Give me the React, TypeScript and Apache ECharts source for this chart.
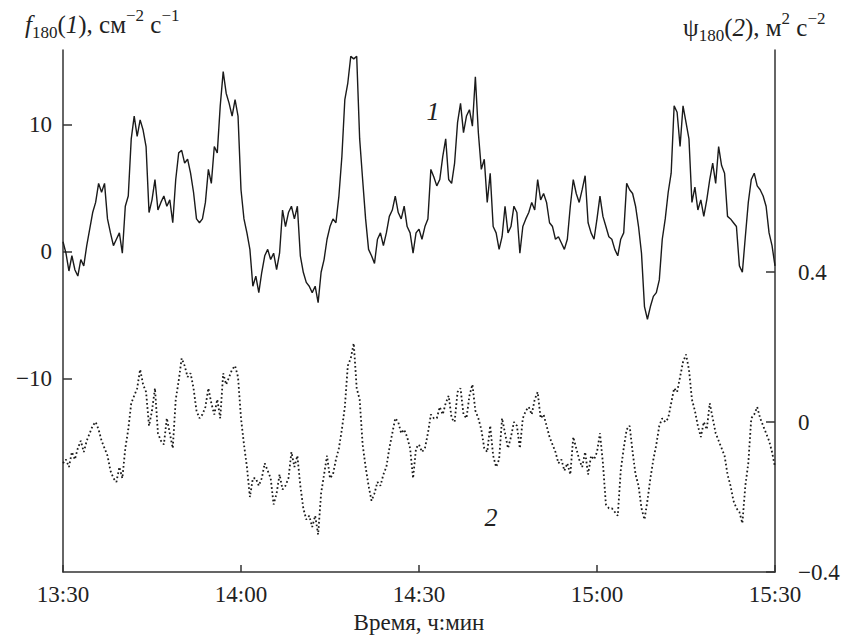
import React, { useEffect, useRef } from 'react';
import * as echarts from 'echarts';

// Time axis: minutes after 13:30
const timeTicks = [0, 30, 60, 90, 120];
const timeLabels = ['13:30', '14:00', '14:30', '15:00', '15:30'];
const leftTicks = [-10, 0, 10];
const leftTickLabels = ['−10', '0', '10'];
const rightTicks = [-0.4, 0, 0.4];
const rightTickLabels = ['−0.4', '0', '0.4'];
const sampleStepMin = 0.5;

// Curve 1: f180, cm^-2 s^-1 (left axis), every 0.5 min from 13:30
const flux180 = [
  0.8, -0.1, -1.5, -0.3, -1.4, -1.9, -0.6, -1.1, 0.5, 1.8,
  3.1, 3.9, 5.4, 4.7, 5.4, 2.6, 1.5, 0.5, 1.0, 1.5,
  -0.1, 3.6, 4.4, 8.9, 10.7, 9.1, 10.4, 9.6, 8.3, 3.1,
  4.1, 5.7, 3.3, 3.9, 4.4, 3.6, 4.1, 2.3, 5.7, 7.8,
  8.0, 7.0, 7.3, 6.2, 4.7, 2.6, 2.3, 2.6, 3.9, 6.5,
  5.4, 8.3, 7.8, 11.5, 14.2, 12.5, 11.7, 10.7, 12.0, 10.7,
  4.9, 2.6, 1.5, 0.2, -2.7, -1.9, -3.2, -1.6, -0.3, 0.2,
  -0.6, -0.1, -1.4, -0.1, 3.3, 2.0, 3.1, 3.6, 2.6, 3.6,
  -0.3, -1.6, -2.4, -2.7, -3.2, -2.7, -4.0, -1.6, -0.6, 1.0,
  2.0, 2.6, 2.3, 4.4, 7.5, 12.0, 13.3, 15.4, 15.2, 15.4,
  8.9, 5.7, 2.6, 0.2, -0.3, -0.9, 1.0, 1.5, 0.5, 1.5,
  2.8, 3.3, 4.4, 3.1, 2.6, 3.6, 2.0, 1.5, -0.1, 1.5,
  1.8, 1.0, 2.0, 2.6, 6.5, 5.9, 5.2, 5.7, 7.5, 8.9,
  5.7, 5.4, 7.0, 10.2, 11.7, 9.4, 10.7, 11.2, 9.9, 13.8,
  9.4, 6.5, 7.3, 3.9, 6.2, 2.0, 1.5, 0.2, 1.2, 3.6,
  1.5, 2.0, 3.6, 3.1, -0.1, 2.0, 2.6, 3.1, 3.9, 3.3,
  5.7, 4.1, 4.6, 3.9, 2.3, 2.0, 1.0, 1.2, 0.7, 0.2,
  1.0, 3.6, 5.7, 4.6, 3.9, 4.9, 6.0, 2.3, 1.5, 1.0,
  2.6, 4.4, 2.8, 2.0, 1.2, 1.0, 0.2, -0.3, 1.0, 1.5,
  5.4, 4.9, 4.6, 3.6, 2.0, -0.1, -4.3, -5.3, -4.3, -3.5,
  -3.2, -2.2, 1.0, 2.6, 4.7, 6.2, 11.5, 11.0, 8.3, 11.5,
  10.2, 8.9, 3.9, 5.1, 3.3, 4.1, 2.8, 4.1, 5.7, 7.0,
  5.4, 8.3, 6.8, 6.2, 2.8, 2.6, 2.3, 2.0, -1.1, -1.6,
  1.2, 3.9, 5.7, 6.2, 5.2, 4.9, 4.4, 3.6, 1.5, 0.5,
  -1.1,
];

// Curve 2: psi180, m^2 s^-2 (right axis), every 0.5 min from 13:30
const psi180 = [
  -0.11, -0.10, -0.12, -0.08, -0.10, -0.07, -0.05, -0.08, -0.05, -0.03,
  -0.01, 0.0, -0.02, -0.05, -0.07, -0.09, -0.13, -0.15, -0.16, -0.12,
  -0.15, -0.07, -0.02, 0.05, 0.07, 0.09, 0.14, 0.10, 0.08, -0.01,
  0.03, 0.09, -0.03, -0.05, -0.06, 0.01, -0.03, -0.07, 0.06, 0.11,
  0.17, 0.15, 0.12, 0.13, 0.09, 0.03, 0.01, 0.02, 0.04, 0.09,
  0.05, 0.02, 0.06, 0.01, 0.13, 0.10, 0.12, 0.14, 0.15, 0.12,
  0.01, -0.06, -0.12, -0.20, -0.15, -0.15, -0.17, -0.15, -0.11, -0.13,
  -0.15, -0.22, -0.19, -0.14, -0.18, -0.17, -0.15, -0.08, -0.12, -0.09,
  -0.17, -0.23, -0.26, -0.25, -0.28, -0.25, -0.30, -0.19, -0.14, -0.09,
  -0.15, -0.14, -0.10, -0.07, -0.02, 0.04, 0.15, 0.17, 0.21, 0.09,
  0.06, -0.06, -0.12, -0.17, -0.21, -0.19, -0.16, -0.17, -0.14, -0.12,
  -0.07, -0.03, 0.01, 0.0, -0.03, -0.02, -0.04, -0.07, -0.15, -0.07,
  -0.06, -0.08, -0.07, -0.03, 0.02, 0.01, 0.01, 0.04, 0.02, 0.05,
  0.07, 0.01, 0.0, 0.08, 0.09, 0.02, 0.01, 0.07, 0.10, 0.03,
  0.01, -0.02, -0.07, -0.08, -0.01, -0.09, -0.12, -0.10, 0.01, -0.03,
  -0.07, -0.04, 0.0, -0.01, -0.07, 0.01, 0.03, 0.04, 0.02, 0.06,
  0.08, 0.01, 0.02, -0.01, -0.04, -0.06, -0.08, -0.11, -0.10, -0.13,
  -0.11, -0.14, -0.04, -0.07, -0.10, -0.12, -0.08, -0.14, -0.09, -0.10,
  -0.08, -0.03, -0.11, -0.22, -0.23, -0.23, -0.24, -0.25, -0.13, -0.07,
  -0.02, -0.01, -0.08, -0.14, -0.17, -0.23, -0.26, -0.21, -0.15, -0.10,
  -0.06, -0.01, 0.01, 0.0, 0.01, 0.05, 0.09, 0.08, 0.12, 0.16,
  0.18, 0.14, 0.06, 0.03, -0.01, -0.04, 0.0, -0.02, 0.05, 0.01,
  -0.03, -0.05, -0.07, -0.09, -0.14, -0.17, -0.21, -0.23, -0.24, -0.27,
  -0.17, -0.11, 0.01, 0.02, 0.04, 0.01, -0.01, -0.03, -0.05, -0.08,
  -0.12,
];

const FONT = 'Liberation Serif';
const INK = '#222';
const SVG_FONT_CSS =
  '.chart-root svg text, .chart-root svg tspan { font-family: "Liberation Serif", serif !important; }';

function labelFor(v: number, ticks: number[], labels: string[]) {
  let best = 0;
  for (let i = 1; i < ticks.length; i++) {
    if (Math.abs(ticks[i] - v) < Math.abs(ticks[best] - v)) best = i;
  }
  return labels[best];
}

export default function App() {
  const ref = useRef<HTMLDivElement>(null);
  useEffect(() => {
    if (!ref.current) return;
    document.body.style.margin = '0';
    const chart = echarts.init(ref.current, null, { renderer: 'svg' });
    const s1 = flux180.map((v, i) => [i * sampleStepMin, v]);
    const s2 = psi180.map((v, i) => [i * sampleStepMin, v]);
    const axisLineStyle = { color: '#333', width: 1.5 };
    const labelBase = { color: INK, fontFamily: FONT, fontSize: 23 };
    const rich = {
      n: { fontFamily: FONT, fontSize: 25, lineHeight: 34, color: INK, verticalAlign: 'middle' },
      i: { fontFamily: FONT, fontSize: 25, lineHeight: 34, color: INK, fontStyle: 'italic', verticalAlign: 'middle' },
      sub: { fontFamily: FONT, fontSize: 17, lineHeight: 34, color: INK, verticalAlign: 'bottom' },
      sup: { fontFamily: FONT, fontSize: 17, lineHeight: 34, color: INK, verticalAlign: 'top' },
    };
    chart.setOption({
      animation: false,
      textStyle: { fontFamily: FONT },
      grid: { left: 63, right: 77, top: 50, bottom: 72, containLabel: false },
      xAxis: {
        type: 'value',
        min: 0,
        max: 120,
        interval: 30,
        name: 'Время, ч:мин',
        nameLocation: 'middle',
        nameGap: 37,
        nameTextStyle: { color: INK, fontFamily: FONT, fontSize: 23 },
        axisLine: { show: true, onZero: false, lineStyle: axisLineStyle },
        axisTick: { show: true, inside: true, length: 7, lineStyle: axisLineStyle },
        axisLabel: {
          ...labelBase,
          margin: 11,
          customValues: timeTicks,
          formatter: (v: number) => labelFor(v, timeTicks, timeLabels),
        },
        splitLine: { show: false },
      },
      yAxis: [
        {
          type: 'value',
          position: 'left',
          min: -25.2,
          max: 15.9,
          axisLine: { show: true, onZero: false, lineStyle: axisLineStyle },
          axisTick: { show: true, inside: true, length: 9, lineStyle: axisLineStyle, customValues: leftTicks },
          axisLabel: {
            ...labelBase,
            margin: 11,
            customValues: leftTicks,
            formatter: (v: number) => labelFor(v, leftTicks, leftTickLabels),
          },
          splitLine: { show: false },
        },
        {
          type: 'value',
          position: 'right',
          min: -0.4,
          max: 0.992,
          axisLine: { show: true, onZero: false, lineStyle: axisLineStyle },
          axisTick: { show: true, inside: true, length: 9, lineStyle: axisLineStyle, customValues: rightTicks },
          axisLabel: {
            ...labelBase,
            margin: 23,
            customValues: rightTicks,
            formatter: (v: number) => labelFor(v, rightTicks, rightTickLabels),
          },
          splitLine: { show: false },
        },
      ],
      series: [
        {
          type: 'line',
          yAxisIndex: 0,
          data: s1,
          showSymbol: false,
          symbol: 'none',
          lineStyle: { color: '#1a1a1a', width: 1.4 },
          z: 3,
        },
        {
          type: 'line',
          yAxisIndex: 1,
          data: s2,
          showSymbol: false,
          symbol: 'none',
          lineStyle: { color: '#1a1a1a', width: 1.8, type: [1.7, 2.5] },
          z: 2,
        },
      ],
      graphic: [
        {
          type: 'text',
          left: 25,
          top: 7,
          style: {
            text: '{i|f}{sub|180}{n|(}{i|1}{n|), см}{sup|−2}{n| с}{sup|−1}',
            rich,
            fill: INK,
            fontFamily: FONT,
            fontSize: 25,
          },
        },
        {
          type: 'text',
          left: 683,
          top: 10,
          style: {
            text: '{n|ψ}{sub|180}{n|(}{i|2}{n|), м}{sup|2}{n| с}{sup|−2}',
            rich,
            fill: INK,
            fontFamily: FONT,
            fontSize: 25,
          },
        },
        {
          type: 'text',
          x: 433,
          y: 111,
          style: {
            text: '1',
            fill: INK,
            fontFamily: FONT,
            fontSize: 26,
            fontStyle: 'italic',
            align: 'center',
            verticalAlign: 'middle',
          },
        },
        {
          type: 'text',
          x: 491,
          y: 517,
          style: {
            text: '2',
            fill: INK,
            fontFamily: FONT,
            fontSize: 26,
            fontStyle: 'italic',
            align: 'center',
            verticalAlign: 'middle',
          },
        },
      ],
    });
    return () => chart.dispose();
  }, []);
  return (
    <>
      <style>{SVG_FONT_CSS}</style>
      <div className="chart-root" ref={ref} style={{ width: 852, height: 644, background: '#fff' }} />
    </>
  );
}
